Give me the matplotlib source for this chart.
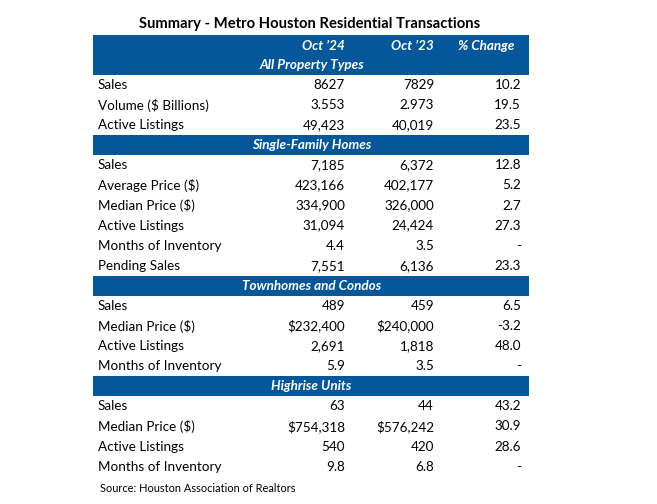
import matplotlib
matplotlib.use("Agg")
import matplotlib.pyplot as plt
from matplotlib.patches import Rectangle

title = "Summary - Metro Houston Residential Transactions"
columns = ["Oct \u201924", "Oct \u201923", "% Change"]

sections = ["All Property Types", "Single-Family Homes", "Townhomes and Condos", "Highrise Units"]
row_labels = [
    ["Sales", "Volume ($ Billions)", "Active Listings"],
    ["Sales", "Average Price ($)", "Median Price ($)", "Active Listings", "Months of Inventory", "Pending Sales"],
    ["Sales", "Median Price ($)", "Active Listings", "Months of Inventory"],
    ["Sales", "Median Price ($)", "Active Listings", "Months of Inventory"],
]
oct24 = [
    ["8627", "3.553", "49,423"],
    ["7,185", "423,166", "334,900", "31,094", "4.4", "7,551"],
    ["489", "$232,400", "2,691", "5.9"],
    ["63", "$754,318", "540", "9.8"],
]
oct23 = [
    ["7829", "2.973", "40,019"],
    ["6,372", "402,177", "326,000", "24,424", "3.5", "6,136"],
    ["459", "$240,000", "1,818", "3.5"],
    ["44", "$576,242", "420", "6.8"],
]
pct_change = [
    ["10.2", "19.5", "23.5"],
    ["12.8", "5.2", "2.7", "27.3", "-", "23.3"],
    ["6.5", "-3.2", "48.0", "-"],
    ["43.2", "30.9", "28.6", "-"],
]
source = "Source: Houston Association of Realtors"

BLUE = "#03579A"
FONT = "Lato"
W, H = 657, 504

fig = plt.figure(figsize=(W / 100, H / 100), dpi=100)
ax = fig.add_axes([0, 0, 1, 1])
ax.set_xlim(0, W)
ax.set_ylim(H, 0)
ax.axis("off")

x0, x1 = 93, 529
xl, xc1, xc2, xc3 = 98, 345, 434, 521
fs = 9.7

ax.text(310, 24, title, ha="center", va="center", fontsize=10.6, fontweight="bold",
        family=FONT, color="black")

# header band
ax.add_patch(Rectangle((x0, 35), x1 - x0, 40, color=BLUE, lw=0))
for x, c in zip([xc1, xc2, 515], columns):
    ax.text(x, 45.5, c, ha="right", va="center", fontsize=fs, fontweight="bold",
            style="italic", color="white", family=FONT)

y = 65
rowh = 20.08
for si, sec in enumerate(sections):
    if si > 0:
        ax.add_patch(Rectangle((x0, y - 10), x1 - x0, 20, color=BLUE, lw=0))
    ax.text((x0 + x1) / 2 + 0.5, y, sec, ha="center", va="center", fontsize=fs,
            fontweight="bold", style="italic", color="white", family=FONT)
    y += rowh
    for lab, a, b, c in zip(row_labels[si], oct24[si], oct23[si], pct_change[si]):
        ax.text(xl, y, lab, ha="left", va="center", fontsize=fs, family=FONT, color="black")
        ax.text(xc1, y, a, ha="right", va="center", fontsize=fs, family=FONT, color="black")
        ax.text(xc2, y, b, ha="right", va="center", fontsize=fs, family=FONT, color="black")
        ax.text(xc3, y, c, ha="right", va="center", fontsize=fs, family=FONT, color="black")
        y += rowh

ax.text(100, 488, source, ha="left", va="center", fontsize=7.9, family=FONT, color="black")

fig.savefig("out.png", dpi=100, facecolor="white")
